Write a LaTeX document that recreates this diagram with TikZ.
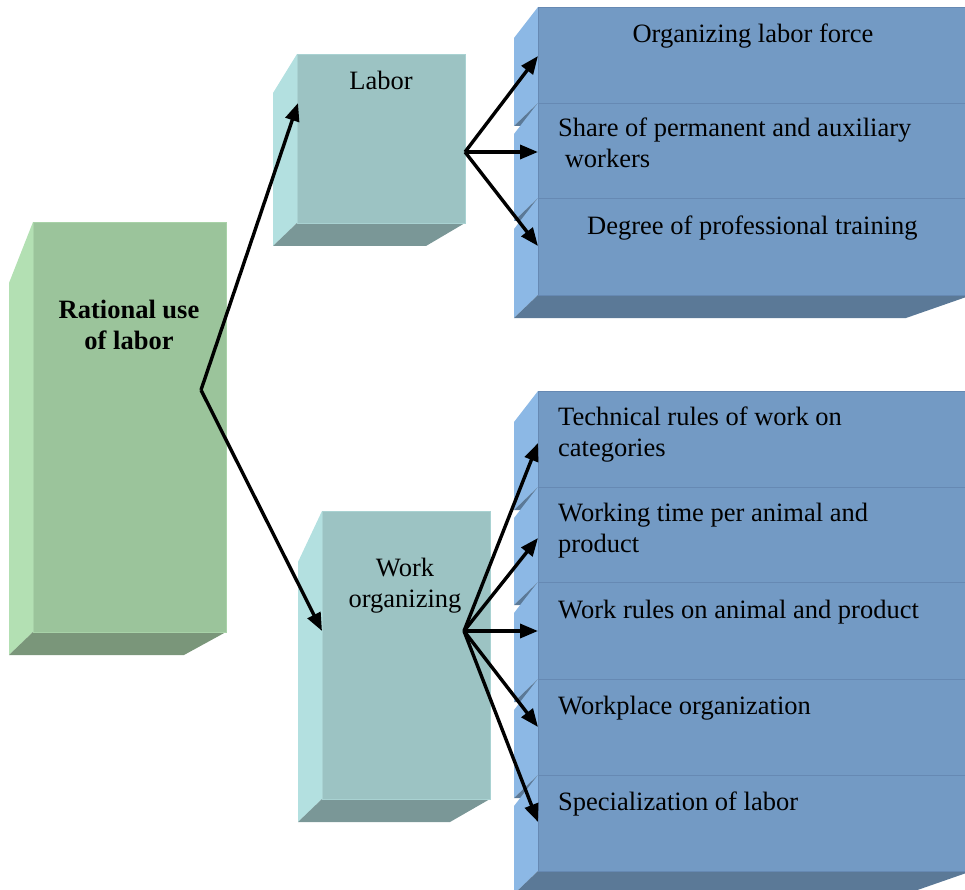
\documentclass[tikz,border=0pt]{standalone}
\usepackage{fontspec}
\setmainfont{Liberation Serif}
\usetikzlibrary{arrows.meta}
\definecolor{gF}{HTML}{9BC49B}
\definecolor{gL}{HTML}{B3E0B3}
\definecolor{gB}{HTML}{7A967A}
\definecolor{gE}{HTML}{A8D2A8}
\definecolor{tF}{HTML}{9CC3C3}
\definecolor{tL}{HTML}{B3E0E0}
\definecolor{tB}{HTML}{7A9797}
\definecolor{tE}{HTML}{A9D2D2}
\definecolor{bF}{HTML}{739AC4}
\definecolor{bL}{HTML}{8CB8E5}
\definecolor{bB}{HTML}{5B7997}
\definecolor{bE}{HTML}{6689B3}
% #1 name, #2 x1, #3 y1, #4 x2, #5 y2, #6 left-top dy, #7 bottom-right dx, #8 colour prefix
\newcommand\tdbox[8]{%
  \fill[#8L] (#2,#3) -- (#2-24,#3+#6) -- (#2-24,#5+23) -- (#2,#5) -- cycle;
  \fill[#8B] (#2,#5) -- (#4,#5) -- (#4-#7,#5+23) -- (#2-24,#5+23) -- cycle;
  \node[frontface, fill=#8F, draw=#8E, minimum width={(#4-#2)*1pt}, minimum height={(#5-#3)*1pt}] (#1) at (#2,#3) {};
}
\begin{document}
\begin{tikzpicture}[x=1pt,y=-1pt,
  frontface/.style={anchor=north west, inner sep=0pt, outer sep=0pt, line width=0.8pt},
  conn/.style={line width=3.4pt, -{Triangle[length=18pt,width=14pt]}},
  txt/.style={inner sep=0pt, font=\fontsize{26.5}{31}\selectfont},
  btxt/.style={txt, font=\fontsize{26.5}{31}\selectfont\bfseries}]
\useasboundingbox (0,0) rectangle (965,890);

% main boxes
\tdbox{rat}{33}{222}{226}{632}{61}{42}{g}
\tdbox{lab}{297}{54}{465}{223}{39}{39}{t}
\tdbox{wrk}{322}{511}{490}{799}{51}{40}{t}

% upper blue stack
\tdbox{s1}{538}{7}{972}{103}{31}{66}{b}
\tdbox{s2}{538}{103}{972}{198}{31}{66}{b}
\tdbox{s3}{538}{198}{972}{295}{31}{66}{b}

% lower blue stack
\tdbox{u1}{538}{391}{972}{487}{31}{66}{b}
\tdbox{u2}{538}{487}{972}{582}{31}{66}{b}
\tdbox{u3}{538}{582}{972}{679}{31}{66}{b}
\tdbox{u4}{538}{679}{972}{775}{31}{66}{b}
\tdbox{u5}{538}{775}{972}{871}{31}{66}{b}

% texts (multi-line nodes: base = last line)
\node[btxt, anchor=base, align=center] (trat) at (129,349) {Rational use\\of labor};
\node[txt, anchor=base] (tlab) at (381,90) {Labor};
\node[txt, anchor=base, align=center] (twrk) at (405,607) {Work\\organizing};

\node[txt, anchor=base] (ts1) at (753,43) {Organizing labor force};
\node[txt, anchor=base west, align=left] (ts2) at (558,168) {Share of permanent and auxiliary\\\ workers};
\node[txt, anchor=base west] (ts3) at (587,235) {Degree of professional training};

\node[txt, anchor=base west, align=left] (tu1) at (558,456) {Technical rules of work on\\categories};
\node[txt, anchor=base west, align=left] (tu2) at (558,552) {Working time per animal and\\product};
\node[txt, anchor=base west] (tu3) at (558,618) {Work rules on animal and product};
\node[txt, anchor=base west] (tu4) at (558,714) {Workplace organization};
\node[txt, anchor=base west] (tu5) at (558,810) {Specialization of labor};

% connector origins and ends
\coordinate (ratv) at (201,390);
\coordinate (labv) at (465,152);
\coordinate (wrkv) at (464,631);
\coordinate (labin) at (298,103);
\coordinate (wrkin) at (322,631);

\draw[conn] (ratv) -- (labin);
\draw[conn] (ratv) -- (wrkin);

\draw[conn] (labv) -- (s1.west |- 0,56);
\draw[conn] (labv) -- (s2.west |- labv);
\draw[conn] (labv) -- (s3.west |- 0,246);

\draw[conn] (wrkv) -- (u1.west |- 0,443);
\draw[conn] (wrkv) -- (u2.west |- 0,538);
\draw[conn] (wrkv) -- (u3.west |- wrkv);
\draw[conn] (wrkv) -- (u4.west |- 0,727);
\draw[conn] (wrkv) -- (u5.west |- 0,822);
\end{tikzpicture}
\end{document}
